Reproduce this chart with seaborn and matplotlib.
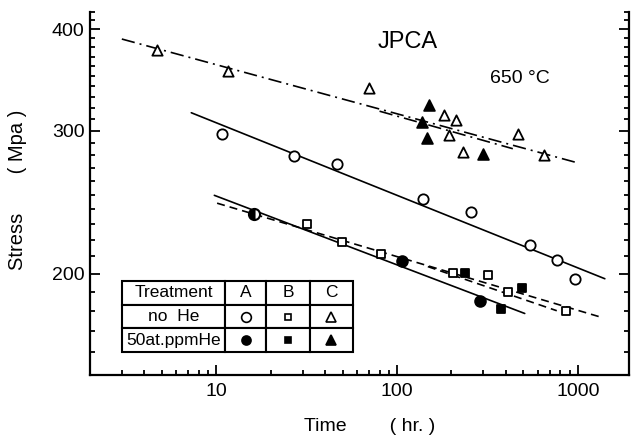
import numpy as np
import pandas as pd
import matplotlib
matplotlib.use("Agg")
import matplotlib.pyplot as plt
from matplotlib.ticker import FixedLocator, FixedFormatter, NullFormatter, LogLocator
import seaborn as sns

# ---------------- data ----------------
# Treatment A
a_nohe_t = [10.7, 27, 46.8, 140, 255, 542, 765, 961]
a_nohe_s = [297, 279, 273, 247, 238, 217, 208, 197]
a_he_t = [107, 286]
a_he_s = [207, 185]
a_he_half_t = [16.2]
a_he_half_s = [236.7]
# Treatment B
b_nohe_t = [31.9, 49.9, 81, 203, 317, 409, 859]
b_nohe_s = [230, 219, 211.5, 200.5, 199, 190, 180]
b_he_t = [237, 490, 374]
b_he_s = [200.5, 192, 181]
# Treatment C
c_nohe_t = [4.7, 11.6, 69.5, 181, 211, 195, 231, 466, 649]
c_nohe_s = [377, 355, 339, 314, 309, 296, 282, 297.5, 280]
c_he_t = [151, 137, 146, 298]
c_he_s = [323, 307, 294, 281]

# fitted lines (end points)
fit_a_nohe_t = [7.27, 1411]
fit_a_nohe_s = [315.6, 197.1]
fit_a_he_t = [9.75, 508.6]
fit_a_he_s = [249.7, 178.6]
fit_b_nohe_t = [10.1, 1358]
fit_b_nohe_s = [244.2, 176.6]
fit_b_he_t = [148, 765]
fit_b_he_s = [204, 180]
fit_c_nohe_t = [3.0, 986]
fit_c_nohe_s = [389, 274]
fit_c_he_t = [80, 437]
fit_c_he_s = [317, 285]

y_major = [200, 300, 400]
y_major_labels = ["200", "300", "400"]
x_major = [10, 100, 1000]
x_major_labels = ["10", "100", "1000"]

table_rows = [["Treatment", "A", "B", "C"],
              ["no  He", "", "", ""],
              ["50at.ppmHe", "", "", ""]]

# ---------------- style ----------------
sns.set_theme(style="ticks")
plt.rcParams["font.family"] = ["Liberation Sans", "DejaVu Sans"]
plt.rcParams["axes.edgecolor"] = "black"
plt.rcParams["lines.scale_dashes"] = True

fig = plt.figure(figsize=(6.32, 4.43), dpi=100)
ax = fig.add_axes([90 / 632, 1 - 375 / 443, 539 / 632, 363 / 443])
ax.set_xscale("log")
ax.set_yscale("log")

K = "black"
lw = 1.2
dashed = (0, (4.8, 3.0))
dashdot = (0, (8.0, 3.0, 1.2, 3.0))

# fitted lines
for t, s, ls in [(fit_a_nohe_t, fit_a_nohe_s, "-"),
                 (fit_a_he_t, fit_a_he_s, "-"),
                 (fit_b_nohe_t, fit_b_nohe_s, dashed),
                 (fit_b_he_t, fit_b_he_s, dashed),
                 (fit_c_nohe_t, fit_c_nohe_s, dashdot),
                 (fit_c_he_t, fit_c_he_s, dashdot)]:
    sns.lineplot(x=t, y=s, ax=ax, color=K, lw=lw, linestyle=ls,
                 estimator=None, sort=False)

# points
def pts(t, s, marker, filled, size):
    sns.scatterplot(x=t, y=s, ax=ax, marker=marker, s=size,
                    facecolor=K if filled else "white",
                    edgecolor=K, linewidth=1.3, zorder=5)

pts(a_nohe_t, a_nohe_s, "o", False, 55)
pts(a_he_t, a_he_s, "o", True, 60)
pts(b_nohe_t, b_nohe_s, "s", False, 38)
pts(b_he_t, b_he_s, "s", True, 38)
pts(c_nohe_t, c_nohe_s, "^", False, 55)
pts(c_he_t, c_he_s, "^", True, 60)
ax.plot(a_he_half_t, a_he_half_s, marker="o", fillstyle="left", ms=8,
        mfc=K, mec=K, mew=1.5, markerfacecoloralt="white", ls="none", zorder=6)

# axes
ax.set_xlim(2, 1920)
ax.set_ylim(150, 420)
ax.xaxis.set_major_locator(FixedLocator(x_major))
ax.xaxis.set_major_formatter(FixedFormatter(x_major_labels))
ax.xaxis.set_minor_locator(LogLocator(base=10, subs=np.arange(2, 10)))
ax.xaxis.set_minor_formatter(NullFormatter())
ax.yaxis.set_major_locator(FixedLocator(y_major))
ax.yaxis.set_major_formatter(FixedFormatter(y_major_labels))
ax.yaxis.set_minor_locator(FixedLocator([v for v in range(150, 421, 10) if v not in y_major]))
ax.yaxis.set_minor_formatter(NullFormatter())

ax.tick_params(which="both", direction="in", color=K, width=1.3,
               left=True, right=True, bottom=True, top=False,
               labelright=False, labelsize=14, labelcolor=K)
ax.tick_params(which="major", length=7)
ax.tick_params(which="minor", length=3.5)
ax.tick_params(axis="y", which="major", pad=4)
ax.tick_params(axis="x", which="major", pad=6)
for side in ["left", "bottom", "right"]:
    ax.spines[side].set_linewidth(1.6)
    ax.spines[side].set_color(K)
ax.spines["top"].set_visible(False)

ax.set_ylabel("Stress       ( Mpa )", fontsize=14.5, color=K)
ax.yaxis.set_label_coords(-0.117, 0.51)
ax.set_xlabel("Time        ( hr. )", fontsize=14, color=K)
ax.xaxis.set_label_coords(0.518, -0.118)
ax.xaxis.label.set_va("top")

ax.text(0.590, 0.917, "JPCA", transform=ax.transAxes, fontsize=17,
        ha="center", va="center", color=K)
ax.text(0.798, 0.818, "650 \u00b0C", transform=ax.transAxes, fontsize=14,
        ha="center", va="center", color=K)

# treatment table (legend)
xs = [0.0594, 0.2505, 0.3265, 0.4082, 0.4879]
ys = [0.2590, 0.1928, 0.1267, 0.0634]
widths = [xs[i + 1] - xs[i] for i in range(4)]
tab = ax.table(cellText=table_rows, colWidths=widths, cellLoc="center",
               bbox=[xs[0], ys[-1], xs[-1] - xs[0], ys[0] - ys[-1]])
tab.auto_set_font_size(False)
for (r, c), cell in tab.get_celld().items():
    cell.set_linewidth(1.5)
    cell.set_edgecolor(K)
    cell.set_facecolor("white")
    cell.get_text().set_fontsize(12.5)
    cell.get_text().set_color(K)

markers = [("o", 7.0, 6.5), ("s", 5.0, 5.0), ("^", 7.0, 7.0)]
for ci, (m, ms_open, ms_fill) in enumerate(markers):
    cx = (xs[ci + 1] + xs[ci + 2]) / 2
    for ri, filled in [(1, False), (2, True)]:
        cy = (ys[ri] + ys[ri + 1]) / 2
        ax.plot([cx], [cy], marker=m, transform=ax.transAxes,
                ms=ms_fill if filled else ms_open,
                mfc=K if filled else "white", mec=K, mew=1.2,
                ls="none", zorder=10, clip_on=False)

fig.savefig("out.png", dpi=100)
